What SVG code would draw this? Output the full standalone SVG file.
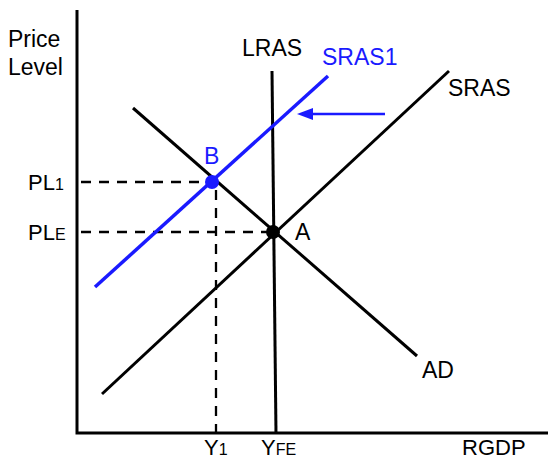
<svg xmlns="http://www.w3.org/2000/svg" width="548" height="461" viewBox="0 0 548 461">
<style>
text{font-family:"Liberation Sans",Arial,sans-serif;font-size:23px;fill:#000}
.blue{fill:#1a1aff}
.sm{font-size:16px}
.ax{font-size:22px}
.ln{stroke:#000;stroke-width:3;fill:none}
.bl{stroke:#1a1aff;stroke-width:3.5;fill:none}
.dash{stroke:#000;stroke-width:2.3;stroke-dasharray:10,8;fill:none}
</style>
<g id="axes">
<path class="ln" d="M77,10 V433 H548"/>
<text x="8" y="47">Price</text>
<text x="8" y="75">Level</text>
<text class="ax" x="462" y="455">RGDP</text>
</g>
<g id="connectors">
<path class="dash" d="M81,182 H212"/>
<path class="dash" d="M81,232 H273"/>
<path class="dash" d="M216,190 V433"/>
<line x1="385" y1="114" x2="310" y2="114" stroke="#1a1aff" stroke-width="2.5"/>
<polygon points="297,114 313,108 313,120" fill="#1a1aff"/>
</g>
<g id="LRAS">
<line class="ln" x1="272" y1="71" x2="276" y2="433"/>
<text x="242" y="56">LRAS</text>
</g>
<g id="SRAS">
<line class="ln" x1="102" y1="394" x2="449" y2="71"/>
<text x="448" y="96">SRAS</text>
</g>
<g id="AD">
<line class="ln" x1="133" y1="108" x2="417" y2="356"/>
<text x="422" y="378">AD</text>
</g>
<g id="SRAS1">
<line class="bl" x1="95" y1="287" x2="328" y2="76"/>
<text class="blue" x="322" y="65">SRAS1</text>
</g>
<g id="B">
<circle cx="212" cy="182" r="7" fill="#1a1aff"/>
<text class="blue" x="204" y="164">B</text>
</g>
<g id="A">
<circle cx="273" cy="232" r="7" fill="#000"/>
<text x="295" y="240">A</text>
</g>
<g id="labels">
<text class="ax" x="28" y="190">PL<tspan class="sm">1</tspan></text>
<text class="ax" x="28" y="240">PL<tspan class="sm">E</tspan></text>
<text class="ax" x="204" y="455">Y<tspan class="sm">1</tspan></text>
<text class="ax" x="261" y="455">Y<tspan class="sm">FE</tspan></text>
</g>
</svg>
